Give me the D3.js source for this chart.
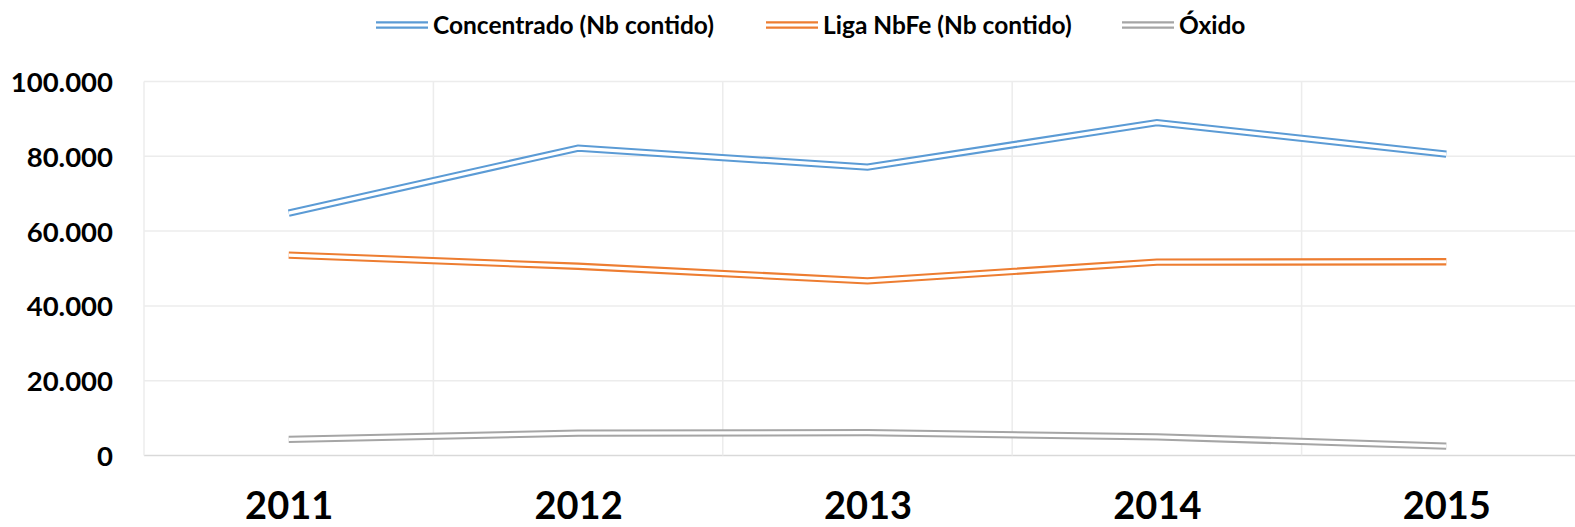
<!DOCTYPE html>
<html lang="pt">
<head>
    <meta charset="UTF-8">
    <title>Nióbio - produção</title>
    <script src="https://d3js.org/d3.v7.min.js"></script>
    <style>
        * { margin: 0; padding: 0; box-sizing: border-box; }
        html, body { width: 1575px; height: 527px; background: #fff; overflow: hidden; }
        svg { display: block; }
        text { font-family: Lato, "Open Sans", Arial, sans-serif; font-weight: bold; fill: #000; }
    </style>
</head>
<body>
    <svg id="chart" width="1575" height="527"></svg>

    <script>
        // data
        const years = ["2011", "2012", "2013", "2014", "2015"];
        const concentrado = [64800, 82200, 77100, 89000, 80600];
        const ligaNbFe = [53600, 50600, 46700, 51700, 51800];
        const oxido = [4300, 6000, 6100, 5000, 2500];
        const yTicks = [0, 20000, 40000, 60000, 80000, 100000];

        const series = [
            { name: "Concentrado (Nb contido)", values: concentrado, color: "#5B9BD5" },
            { name: "Liga NbFe (Nb contido)", values: ligaNbFe, color: "#ED7D31" },
            { name: "Óxido", values: oxido, color: "#A5A5A5" }
        ];

        const W = 1575, H = 527;
        // plot area runs past the right edge of the picture (it was cropped)
        const plot = { left: 144, right: 1591, top: 81.5, bottom: 455.5 };

        const ptBR = d3.formatLocale({ decimal: ",", thousands: ".", grouping: [3], currency: ["R$", ""] });
        const fmt = ptBR.format(",d");

        const svg = d3.select("#chart");

        const x = d3.scalePoint().domain(years).range([plot.left, plot.right]).padding(0.5);
        const band = d3.scaleBand().domain(years).range([plot.left, plot.right]);
        const y = d3.scaleLinear().domain([0, 100000]).range([plot.bottom, plot.top]);

        // horizontal gridlines
        svg.append("g")
            .selectAll("line")
            .data(yTicks)
            .join("line")
            .attr("x1", plot.left)
            .attr("x2", W)
            .attr("y1", d => y(d))
            .attr("y2", d => y(d))
            .attr("stroke", d => d === 0 ? "#d9d9d9" : "#ececec")
            .attr("stroke-width", 1.5);

        // vertical gridlines at category boundaries
        const bounds = years.map(d => band(d)).concat([plot.right]);
        svg.append("g")
            .selectAll("line")
            .data(bounds)
            .join("line")
            .attr("x1", d => d)
            .attr("x2", d => d)
            .attr("y1", plot.top)
            .attr("y2", plot.bottom)
            .attr("stroke", "#ececec")
            .attr("stroke-width", 1.5);

        // y axis labels
        const yAxis = svg.append("g")
            .attr("transform", `translate(${plot.left - 31},0)`)
            .call(d3.axisLeft(y).tickValues(yTicks).tickFormat(fmt).tickSize(0).tickPadding(0));
        yAxis.select(".domain").remove();
        yAxis.selectAll("text")
            .attr("font-family", "Lato, 'Open Sans', Arial, sans-serif")
            .attr("font-weight", "bold")
            .attr("font-size", 27.5)
            .attr("fill", "#000")
            .attr("dy", "0.36em");

        // x axis labels
        const xAxis = svg.append("g")
            .attr("transform", `translate(0,${plot.bottom})`)
            .call(d3.axisBottom(x).tickSize(0).tickPadding(0));
        xAxis.select(".domain").remove();
        xAxis.selectAll("text")
            .attr("font-family", "Lato, 'Open Sans', Arial, sans-serif")
            .attr("font-weight", "bold")
            .attr("font-size", 38)
            .attr("fill", "#000")
            .attr("dy", null)
            .attr("y", 63);

        // double lines: coloured stroke with a white core
        const line = d3.line()
            .x((d, i) => x(years[i]))
            .y(d => y(d));

        const lines = svg.append("g");
        series.forEach(s => {
            lines.append("path")
                .attr("d", line(s.values))
                .attr("fill", "none")
                .attr("stroke", s.color)
                .attr("stroke-width", 7.3)
                .attr("stroke-linejoin", "miter");
            lines.append("path")
                .attr("d", line(s.values))
                .attr("fill", "none")
                .attr("stroke", "#fff")
                .attr("stroke-width", 3.2)
                .attr("stroke-linejoin", "miter");
        });

        // legend
        const legendPos = [376, 766, 1122];
        const legend = svg.append("g");
        series.forEach((s, i) => {
            const g = legend.append("g").attr("transform", `translate(${legendPos[i]},25)`);
            g.append("line").attr("x1", 0).attr("x2", 52).attr("y1", 0).attr("y2", 0)
                .attr("stroke", s.color).attr("stroke-width", 7.3);
            g.append("line").attr("x1", 0).attr("x2", 52).attr("y1", 0).attr("y2", 0)
                .attr("stroke", "#fff").attr("stroke-width", 3.2);
            g.append("text")
                .attr("x", 57)
                .attr("y", 8.5)
                .attr("font-size", 24.5)
                .text(s.name);
        });
    </script>
</body>
</html>
